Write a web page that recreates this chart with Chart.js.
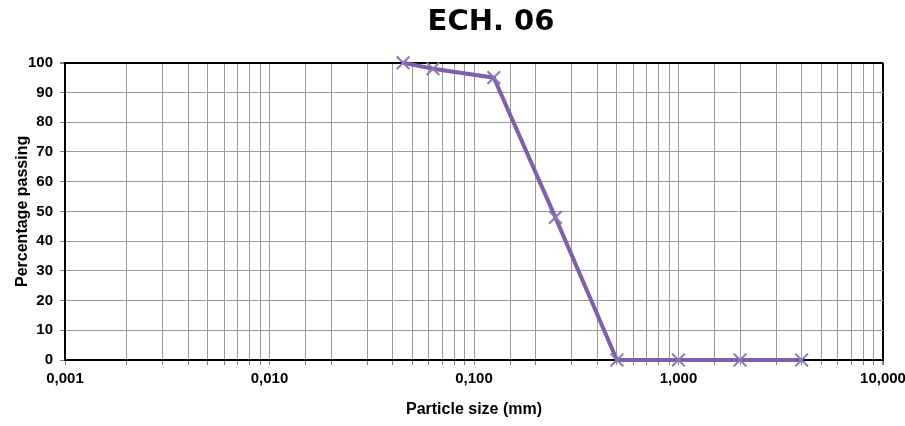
<!DOCTYPE html>
<html>
<head>
<meta charset="utf-8">
<script src="https://cdn.jsdelivr.net/npm/chart.js@4/dist/chart.umd.min.js"></script>
<style>
  html, body { margin: 0; padding: 0; background: #fff; }
  #wrap { width: 905px; height: 426px; }
</style>
</head>
<body>
<div id="wrap"><canvas id="c" width="905" height="426"></canvas></div>
<script>
const chartTitle = 'ECH. 06';
const xAxisTitle = 'Particle size (mm)';
const yAxisTitle = 'Percentage passing';
const particleSizes = [0.045, 0.063, 0.125, 0.25, 0.5, 1, 2, 4];
const percentPassing = [100, 98, 95, 48, 0, 0, 0, 0];
const xMajorTicks = [0.001, 0.01, 0.1, 1, 10];
const xMajorLabels = ['0,001', '0,010', '0,100', '1,000', '10,000'];
const yTicks = [0, 10, 20, 30, 40, 50, 60, 70, 80, 90, 100];

const PURPLE = '#7e5fad';
const FONT = "'Liberation Sans', Arial, sans-serif";

function majorIndex(v) {
  for (let i = 0; i < xMajorTicks.length; i++) {
    if (Math.abs(Math.log10(v) - Math.log10(xMajorTicks[i])) < 1e-6) return i;
  }
  return -1;
}

const titleShift = {
  id: 'titleShift',
  afterLayout(chart) {
    const t = chart.titleBlock;
    if (!t) return;
    const shift = 491 - (t.left + t.right) / 2;
    t.left += shift; t.right += shift;
  }
};

new Chart(document.getElementById('c'), {
  type: 'line',
  data: {
    datasets: [{
      data: particleSizes.map((x, i) => ({ x: x, y: percentPassing[i] })),
      borderColor: PURPLE,
      backgroundColor: PURPLE,
      borderWidth: 4,
      pointStyle: 'crossRot',
      pointRadius: 9,
      pointBorderWidth: 2,
      pointBorderColor: '#8c74b8',
      pointHoverRadius: 9,
      tension: 0,
      clip: false
    }]
  },
  options: {
    responsive: false,
    animation: false,
    devicePixelRatio: 1,
    layout: { padding: { left: 0, right: 22, top: 0, bottom: 0 } },
    plugins: {
      legend: { display: false },
      tooltip: { enabled: false },
      title: {
        display: true,
        text: chartTitle,
        color: '#000',
        font: { family: "'DejaVu Sans', " + FONT, size: 29, weight: 'bold' },
        padding: { top: 5, bottom: 23 }
      }
    },
    scales: {
      x: {
        type: 'logarithmic',
        min: 0.001,
        max: 10,
        afterFit(s) { s.height = 66; s.paddingLeft = 0; s.paddingRight = 0; },
        border: { display: true, color: '#000', width: 2 },
        grid: {
          color: ctx => (ctx.tick && Math.abs(ctx.tick.value - 10) < 1e-9) ? '#000' : '#9a9a9a',
          lineWidth: ctx => (ctx.tick && Math.abs(ctx.tick.value - 10) < 1e-9) ? 2 : 1,
          tickLength: 5,
          tickColor: '#808080'
        },
        ticks: {
          autoSkip: false,
          maxRotation: 0,
          minRotation: 0,
          padding: 5,
          color: '#000',
          font: { family: FONT, size: 15, weight: 'bold' },
          callback: function (v) {
            const i = majorIndex(v);
            return i >= 0 ? xMajorLabels[i] : '';
          }
        },
        title: {
          display: true,
          text: xAxisTitle,
          color: '#000',
          font: { family: FONT, size: 16, weight: 'bold' },
          padding: { top: 4, bottom: 7 }
        }
      },
      y: {
        type: 'linear',
        min: yTicks[0],
        max: yTicks[yTicks.length - 1],
        afterFit(s) { s.width = 65; },
        afterBuildTicks(s) { s.ticks = yTicks.map(v => ({ value: v })); },
        border: { display: true, color: '#000', width: 2 },
        grid: {
          color: ctx => (ctx.tick && ctx.tick.value === 100) ? '#000' : '#9a9a9a',
          lineWidth: ctx => (ctx.tick && ctx.tick.value === 100) ? 2 : 1,
          tickLength: 5,
          tickColor: '#808080'
        },
        ticks: {
          padding: 7,
          color: '#000',
          font: { family: FONT, size: 15, weight: 'bold' }
        },
        title: {
          display: true,
          text: yAxisTitle,
          color: '#000',
          font: { family: FONT, size: 16, weight: 'bold' },
          padding: { top: 13, bottom: 0 }
        }
      }
    }
  },
  plugins: [titleShift]
});
</script>
</body>
</html>
